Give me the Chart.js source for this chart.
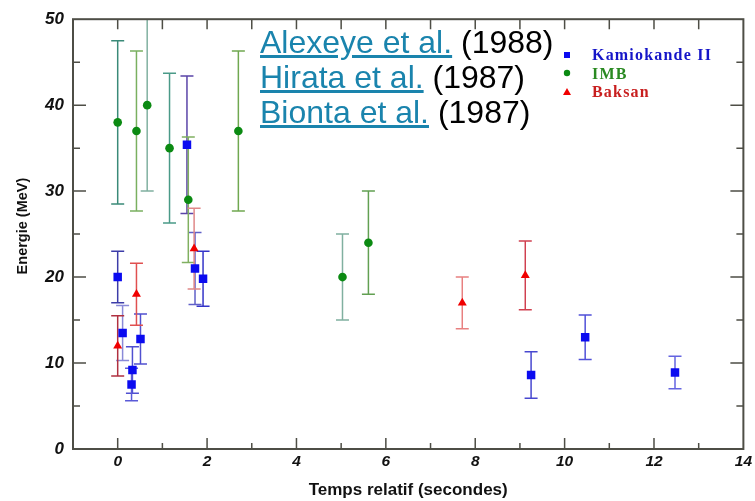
<!DOCTYPE html>
<html><head><meta charset="utf-8">
<script src="https://cdn.jsdelivr.net/npm/chart.js@4"></script>
<style>
html,body{margin:0;padding:0;background:#fff;}
#wrap{position:relative;width:755px;height:501px;overflow:hidden;}
#c{position:absolute;left:0;top:0;}
#refs{position:absolute;left:260px;top:25px;font-family:'Liberation Sans',Arial,sans-serif;font-size:32px;line-height:35px;color:#000;white-space:nowrap;}
#refs a{color:#1a84ad;text-decoration:underline;}
#legend{position:absolute;left:592px;top:46px;font-family:'Liberation Serif','Times New Roman',serif;font-weight:bold;font-size:16px;line-height:18.5px;letter-spacing:1.2px;white-space:nowrap;}
</style>
</head><body>
<div id="wrap">
<canvas id="c" width="755" height="501"></canvas>
<div id="refs">
<div><a href="#">Alexeye et al.</a> (1988)</div>
<div><a href="#">Hirata et al.</a> (1987)</div>
<div><a href="#">Bionta et al.</a> (1987)</div>
</div>
<div id="legend">
<div style="color:#1515c8">Kamiokande II</div>
<div style="color:#2a8a22">IMB</div>
<div style="color:#c81e1e">Baksan</div>
</div>
</div>
<script>
// ---- data ----
const seriesNames = ['Kamiokande II', 'IMB', 'Baksan'];
const kamT   = [0, 0.11, 0.33, 0.31, 0.51, 1.55, 1.73, 1.91, 9.25, 10.46, 12.47];
const kamE   = [20.0, 13.5, 9.2, 7.5, 12.8, 35.4, 21.0, 19.8, 8.6, 13.0, 8.9];
const kamErr = [3.0, 3.2, 2.7, 1.9, 2.9, 8.0, 4.2, 3.2, 2.7, 2.6, 1.9];

const imbT   = [0, 0.42, 0.66, 1.16, 1.58, 2.70, 5.03, 5.61];
const imbE   = [38, 37, 40, 35, 29, 37, 20, 24];
const imbErr = [9.5, 9.3, 10, 8.7, 7.3, 9.3, 5, 6];

const bakT   = [0, 0.42, 1.71, 7.71, 9.12];
const bakE   = [12.0, 18.0, 23.3, 17.0, 20.2];
const bakErr = [3.5, 3.6, 4.7, 3.0, 4.0];

const xTicks = [0, 2, 4, 6, 8, 10, 12, 14];
const yTicks = [0, 10, 20, 30, 40, 50];

// ---- styles ----
const kamBarColors = ['#3c3ca8','#8a8ad8','#5050d0','#5a5ad8','#5050d0','#5a44a8','#6060c8','#3434c8','#4848d0','#5050d8','#6464e0'];
const imbBarColors = ['#3a8a78','#7ab060','#80b0a0','#4a9a88','#80b060','#70a850','#80b0a0','#62a052'];
const bakBarColors = ['#b03040','#e05050','#e08888','#e88080','#d04050'];

const toPts = (t, e) => t.map((v, i) => ({x: v, y: e[i]}));
const errSets = [
  {t: kamT, e: kamE, err: kamErr, col: kamBarColors},
  {t: imbT, e: imbE, err: imbErr, col: imbBarColors},
  {t: bakT, e: bakE, err: bakErr, col: bakBarColors}
];
const axisColor = '#4e4e46';

const framePlugin = {
  id: 'frame',
  beforeDatasetsDraw(chart) {
    const {ctx, chartArea: a, scales: {x, y}} = chart;
    ctx.save();
    ctx.strokeStyle = axisColor; ctx.lineWidth = 1.5;
    ctx.beginPath();
    for (let v = 0; v <= 13; v++) {
      const px = x.getPixelForValue(v);
      const len = v % 2 === 0 ? 11 : 6;
      ctx.moveTo(px, a.bottom); ctx.lineTo(px, a.bottom - len);
      ctx.moveTo(px, a.top); ctx.lineTo(px, a.top + 10);
    }
    for (let v = 5; v < 50; v += 5) {
      const py = y.getPixelForValue(v);
      const len = v % 10 === 0 ? 13 : 7;
      ctx.moveTo(a.left, py); ctx.lineTo(a.left + len, py);
      ctx.moveTo(a.right, py); ctx.lineTo(a.right - len, py);
    }
    ctx.stroke();
    ctx.beginPath(); ctx.rect(a.left, a.top, a.right - a.left, a.bottom - a.top); ctx.clip();
    ctx.lineWidth = 1.5;
    const cap = 6.5;
    errSets.forEach(s => {
      s.t.forEach((tv, i) => {
        const px = x.getPixelForValue(tv);
        const top = y.getPixelForValue(s.e[i] + s.err[i]);
        const bot = y.getPixelForValue(s.e[i] - s.err[i]);
        ctx.strokeStyle = s.col[i];
        ctx.beginPath();
        ctx.moveTo(px, top); ctx.lineTo(px, bot);
        ctx.moveTo(px - cap, top); ctx.lineTo(px + cap, top);
        ctx.moveTo(px - cap, bot); ctx.lineTo(px + cap, bot);
        ctx.stroke();
      });
    });
    ctx.restore();
  },
  afterDraw(chart) {
    const {ctx, chartArea: a} = chart;
    ctx.save();
    ctx.strokeStyle = axisColor; ctx.lineWidth = 2;
    ctx.strokeRect(a.left, a.top, a.right - a.left, a.bottom - a.top);
    const lx = 567;
    ctx.fillStyle = '#0b0bf0'; ctx.fillRect(lx - 3, 52, 6, 6);
    ctx.fillStyle = '#0b8a12'; ctx.beginPath(); ctx.arc(lx, 73, 3.2, 0, Math.PI * 2); ctx.fill();
    ctx.fillStyle = '#f00000'; ctx.beginPath(); ctx.moveTo(lx, 88); ctx.lineTo(lx + 4, 95); ctx.lineTo(lx - 4, 95); ctx.closePath(); ctx.fill();
    ctx.restore();
  }
};

const fam = "'Liberation Sans', Arial, sans-serif";

new Chart(document.getElementById('c'), {
  type: 'scatter',
  data: {
    datasets: [
      {label: seriesNames[0], data: toPts(kamT, kamE), pointStyle: 'rect', pointRadius: 6, backgroundColor: '#0b0bf0', borderWidth: 0},
      {label: seriesNames[1], data: toPts(imbT, imbE), pointStyle: 'circle', pointRadius: 4.3, backgroundColor: '#0b8a12', borderWidth: 0},
      {label: seriesNames[2], data: toPts(bakT, bakE), pointStyle: 'triangle', pointRadius: 5.2, backgroundColor: '#f00000', borderWidth: 0}
    ]
  },
  options: {
    responsive: false, animation: false, events: [],
    devicePixelRatio: 1,
    layout: {padding: {top: 12, right: 6, left: 0, bottom: 0}},
    plugins: {legend: {display: false}, tooltip: {enabled: false}},
    scales: {
      x: {
        type: 'linear', min: -1, max: 14,
        afterBuildTicks: s => { s.ticks = xTicks.map(v => ({value: v})); },
        afterFit: s => { s.height = 52; },
        grid: {display: false, drawTicks: false}, border: {display: false},
        ticks: {font: {family: fam, size: 15.5, weight: 'bold', style: 'italic'}, color: '#111', padding: 3, maxRotation: 0, autoSkip: false},
        title: {display: true, text: 'Temps relatif (secondes)', font: {family: fam, weight: 'bold', size: 17}, color: '#111', padding: {top: 0, bottom: 0}}
      },
      y: {
        type: 'linear', min: 0, max: 50,
        afterBuildTicks: s => { s.ticks = yTicks.map(v => ({value: v})); },
        afterFit: s => { s.width = 73; },
        grid: {display: false, drawTicks: false}, border: {display: false},
        ticks: {font: {family: fam, size: 17, weight: 'bold', style: 'italic'}, color: '#111', padding: 9},
        title: {display: true, text: '\u00a0\u00a0\u00a0\u00a0Energie (MeV)', font: {family: fam, weight: 'bold', size: 14.5}, color: '#111', padding: {top: 14, bottom: 0}}
      }
    }
  },
  plugins: [framePlugin]
});
</script>
</body></html>
